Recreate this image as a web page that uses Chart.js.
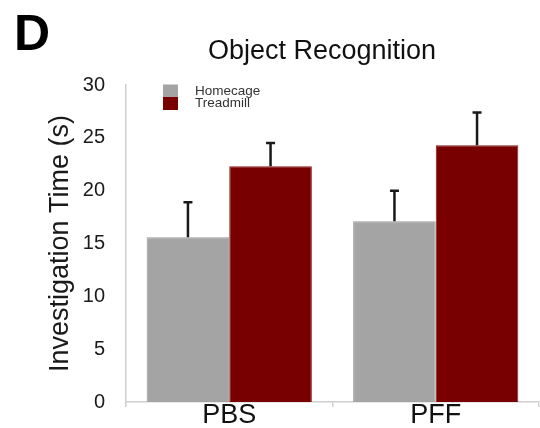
<!DOCTYPE html>
<html>
<head>
<meta charset="utf-8">
<script src="https://cdn.jsdelivr.net/npm/chart.js@4/dist/chart.umd.min.js"></script>
<style>
  body { margin: 0; background: #fff; }
  canvas { display: block; }
</style>
</head>
<body>
<canvas id="myChart" width="540" height="428"></canvas>
<script>
'use strict';

let categories = ['PBS', 'PFF'];
let seriesNames = ['Homecage', 'Treadmill'];
let homecageValues = [15.6, 17.1];
let treadmillValues = [22.3, 24.3];
let homecageErrors = [3.3, 2.9];
let treadmillErrors = [2.2, 3.1];
let yTicks = [0, 5, 10, 15, 20, 25, 30];

let panelLetter = 'D';
let chartTitle = 'Object Recognition';
let yTitle = 'Investigation Time (s)';

let fontFamily = '"Liberation Sans", Arial, Helvetica, sans-serif';

// error bars, only the upper half like the figure
let errorBarPlugin = {
  id: 'errorBars',
  afterDatasetsDraw(chart) {
    let ctx = chart.ctx;
    let yScale = chart.scales.y;
    ctx.save();
    ctx.strokeStyle = '#1a1a1a';
    ctx.lineWidth = 2.5;
    chart.data.datasets.forEach((ds, di) => {
      let meta = chart.getDatasetMeta(di);
      meta.data.forEach((bar, i) => {
        let top = yScale.getPixelForValue(ds.data[i] + ds.errors[i]);
        ctx.beginPath();
        ctx.moveTo(bar.x, bar.y);
        ctx.lineTo(bar.x, top);
        ctx.moveTo(bar.x - 4.5, top);
        ctx.lineTo(bar.x + 4.5, top);
        ctx.stroke();
      });
    });
    ctx.restore();
  }
};

// title, panel letter and the small stacked legend
let decorPlugin = {
  id: 'decor',
  afterDraw(chart) {
    let ctx = chart.ctx;
    ctx.save();
    ctx.fillStyle = '#000';
    ctx.textAlign = 'left';
    ctx.textBaseline = 'alphabetic';
    ctx.font = 'bold 50px ' + fontFamily;
    ctx.fillText(panelLetter, 14, 50);

    ctx.fillStyle = '#111';
    ctx.textAlign = 'center';
    ctx.font = '27px ' + fontFamily;
    ctx.fillText(chartTitle, 322, 59);

    let ds = chart.data.datasets;
    ctx.fillStyle = ds[0].backgroundColor;
    ctx.fillRect(163, 84.5, 15, 12.5);
    ctx.fillStyle = ds[1].backgroundColor;
    ctx.fillRect(163, 97, 15, 13);

    ctx.fillStyle = '#333';
    ctx.textAlign = 'left';
    ctx.textBaseline = 'middle';
    ctx.font = '13.5px ' + fontFamily;
    ctx.fillText(ds[0].label, 195, 91);
    ctx.fillText(ds[1].label, 195, 103);
    ctx.restore();
  }
};

let ctx = document.getElementById('myChart').getContext('2d');
let myChart = new Chart(ctx, {
  type: 'bar',
  data: {
    labels: categories,
    datasets: [{
      label: seriesNames[0],
      data: homecageValues,
      errors: homecageErrors,
      backgroundColor: '#a4a4a4',
      borderColor: '#969696',
      borderWidth: 1,
    },
    {
      label: seriesNames[1],
      data: treadmillValues,
      errors: treadmillErrors,
      backgroundColor: '#780000',
      borderColor: '#8a1a1a',
      borderWidth: 1,
    }],
  },
  options: {
    responsive: false,
    animation: false,
    categoryPercentage: 0.8,
    barPercentage: 1.0,
    layout: {
      padding: { top: 85, right: 1, left: 0, bottom: 0 }
    },
    plugins: {
      legend: { display: false },
      title: { display: false },
      tooltip: { enabled: false }
    },
    scales: {
      x: {
        afterFit(scale) { scale.height = 26; },
        border: { color: '#cfcfcf', width: 1.5 },
        grid: {
          drawOnChartArea: false,
          drawTicks: true,
          tickLength: 5,
          color: '#cfcfcf',
          lineWidth: 1.5
        },
        ticks: {
          color: '#111',
          padding: -5,
          font: { family: fontFamily, size: 27, lineHeight: 1 }
        }
      },
      y: {
        min: 0,
        max: 30,
        afterFit(scale) { scale.width = 126; },
        afterBuildTicks(scale) {
          scale.ticks = yTicks.map(v => ({ value: v }));
        },
        border: { color: '#cfcfcf', width: 1.5 },
        grid: { display: false },
        ticks: {
          color: '#1a1a1a',
          padding: 13,
          font: { family: fontFamily, size: 20 }
        },
        title: {
          display: true,
          text: yTitle,
          color: '#1a1a1a',
          padding: { top: 44, bottom: 0 },
          font: { family: fontFamily, size: 27 }
        }
      }
    }
  },
  plugins: [errorBarPlugin, decorPlugin]
});
</script>
</body>
</html>
